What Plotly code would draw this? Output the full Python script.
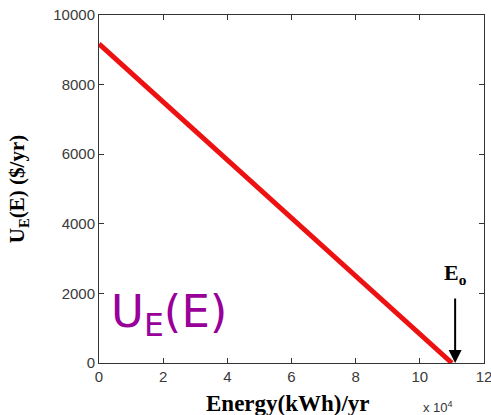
import plotly.graph_objects as go

# Data
energy_kwh = [0, 110000]
cost_usd = [9170, 0]
x_tickvals = [0, 20000, 40000, 60000, 80000, 100000, 120000]
x_ticktext = ["0", "2", "4", "6", "8", "10", "12"]
y_tickvals = [0, 2000, 4000, 6000, 8000, 10000]
y_ticktext = ["0", "2000", "4000", "6000", "8000", "10000"]
e0_value = 111000

fig = go.Figure()
fig.add_trace(go.Scatter(
    x=energy_kwh, y=cost_usd, mode="lines",
    line=dict(color="#ee1111", width=5),
    showlegend=False, hoverinfo="skip"))

axis_common = dict(
    showgrid=False, zeroline=False, showline=True, linecolor="#333333",
    linewidth=1, mirror="ticks", ticks="inside", ticklen=5, tickcolor="#333333",
    tickfont=dict(family="Liberation Sans, Arial", size=15, color="#3a3a3a"),
    ticklabeloverflow="allow", automargin=False,
)
fig.update_xaxes(range=[0, 120000], tickvals=x_tickvals, ticktext=x_ticktext, **axis_common)
fig.update_yaxes(range=[0, 10000], tickvals=y_tickvals, ticktext=y_ticktext, **axis_common)

serif_bold = "Liberation Serif, Times New Roman, serif"
annotations = [
    dict(text="<b>Energy(kWh)/yr</b>", xref="paper", yref="paper", x=0.49, y=-0.115,
         xanchor="center", yanchor="middle", showarrow=False,
         font=dict(family=serif_bold, size=23, color="black")),
    dict(text="<b>U<sub>E</sub>(E) ($/yr)</b>", xref="paper", yref="paper", x=-0.21, y=0.5,
         xanchor="center", yanchor="middle", textangle=-90, showarrow=False,
         font=dict(family=serif_bold, size=21, color="black")),
    dict(text="x 10<sup>4</sup>", xref="paper", yref="paper", x=0.88, y=-0.125,
         xanchor="center", yanchor="middle", showarrow=False,
         font=dict(family="Liberation Sans, Arial", size=13, color="#333333")),
    dict(text="<b>E<sub>o</sub></b>", xref="x", yref="paper", x=e0_value, y=0.255,
         xanchor="center", yanchor="middle", showarrow=False,
         font=dict(family=serif_bold, size=22, color="black")),
    dict(text="", x=e0_value, y=0, xref="x", yref="y", ax=0, ay=-66,
         showarrow=True, arrowhead=2, arrowsize=1.3, arrowwidth=2, arrowcolor="black",
         standoff=0),
    dict(text="U<sub>E</sub>(E)", xref="x", yref="y", x=3000, y=1400,
         xanchor="left", yanchor="middle", showarrow=False,
         font=dict(family="DejaVu Sans", size=45, color="#990099")),
]
fig.update_layout(
    width=491, height=415,
    margin=dict(l=99, r=7, t=15, b=52),
    plot_bgcolor="white", paper_bgcolor="white",
    annotations=annotations,
)
fig.write_html("out.html")
